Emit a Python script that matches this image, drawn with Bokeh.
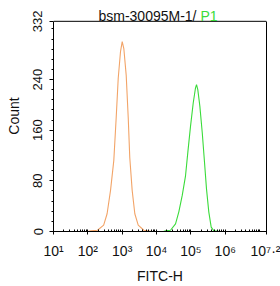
from bokeh.plotting import figure
from bokeh.models import Range1d, FixedTicker, Label, Span, LinearAxis
from bokeh.embed import file_html
from bokeh.resources import INLINE

# ---- data ----
orange_log = [2.0, 2.08, 2.28, 2.46, 2.56, 2.66, 2.755, 2.825, 2.884, 2.95, 3.0,
              3.047, 3.116, 3.175, 3.22, 3.29, 3.367, 3.466, 3.63, 3.87, 4.0]
orange_cnt = [0, 1, 2, 10, 28, 65, 112, 180, 242, 284, 300,
              289, 247, 180, 117, 65, 28, 10, 2, 0, 0]
green_log = [4.2, 4.26, 4.406, 4.552, 4.648, 4.747, 4.843, 4.91, 4.988, 5.067, 5.134,
             5.163, 5.2, 5.26, 5.33, 5.396, 5.454, 5.52, 5.59, 5.667, 5.86]
green_cnt = [0, 1, 2, 12, 31, 57, 88, 125, 166, 203, 227,
             232, 224, 198, 156, 109, 67, 31, 7, 1, 0]

x_tick_exps = ["1", "2", "3", "4", "5", "6", "7.2"]
y_ticks = [0, 80, 160, 240, 332]
y_tick_labels = ["0", "80", "160", "240", "332"]
title_main = "bsm-30095M-1/"
title_gate = "P1"
x_label = "FITC-H"
y_label = "Count"

FONT = "Liberation Sans"
ORANGE = "#F2A468"
GREEN = "#3ADB3A"
TXT = "#111111"

SUP = {"0": "\u2070", "1": "\u00b9", "2": "\u00b2", "3": "\u00b3", "4": "\u2074",
       "5": "\u2075", "6": "\u2076", "7": "\u2077", "8": "\u2078", "9": "\u2079",
       ".": "\u00b7"}

# layout: plot box is 212 px tall, 21 px of title room above it inside the frame
BOX_H, TOP_ROOM, BOTTOM = 212, 21, 53
y_max = y_ticks[-1]
y_top = y_max * (BOX_H + TOP_ROOM) / BOX_H
px = y_max / BOX_H            # counts per pixel
title_y = y_max + 5.5 * px    # title baseline 5.5 px above the box

x_lo, x_hi = 10 ** float(x_tick_exps[0]), 10 ** float(x_tick_exps[-1])

p = figure(width=280, height=BOX_H + TOP_ROOM + BOTTOM, x_axis_type="log",
           x_range=Range1d(x_lo, x_hi), y_range=Range1d(0, y_top),
           output_backend="svg", toolbar_location=None,
           min_border_left=53, min_border_right=14,
           min_border_top=0, min_border_bottom=BOTTOM)
p.title.visible = False
p.xgrid.visible = False
p.ygrid.visible = False
p.outline_line_color = None
p.background_fill_color = "white"
p.border_fill_color = "white"

p.line([10 ** v for v in orange_log], orange_cnt, line_color=ORANGE, line_width=1.1)
p.line([10 ** v for v in green_log], green_cnt, line_color=GREEN, line_width=1.1)

# ---- box: top edge and right edge ----
p.add_layout(Span(location=y_max, dimension="width", line_color="black", line_width=1))
right_axis = LinearAxis(bounds=(0, y_max), ticker=FixedTicker(ticks=[]),
                        axis_line_color="black", major_tick_line_color=None,
                        minor_tick_line_color=None)
p.add_layout(right_axis, "right")

# ---- x axis ----
xt = [10 ** float(e) for e in x_tick_exps]
minor_x = []
for d in range(1, 7):
    for k in range(2, 10):
        minor_x.append(k * 10 ** d)
minor_x.append(10 ** 7)
xa = p.xaxis[0]
xa.ticker = FixedTicker(ticks=xt, minor_ticks=minor_x)
xa.major_label_overrides = {v: "10" + "".join(SUP[c] for c in e)
                            for v, e in zip(xt, x_tick_exps)}
xa.major_label_text_font = FONT
xa.major_label_text_font_size = "14px"
xa.major_label_text_color = TXT
xa.major_label_standoff = 8
xa.axis_line_color = "black"
xa.major_tick_line_color = "black"
xa.minor_tick_line_color = "black"
xa.major_tick_in = 2
xa.major_tick_out = 3
xa.minor_tick_in = 2
xa.minor_tick_out = 0
xa.axis_label = x_label
xa.axis_label_text_font = FONT
xa.axis_label_text_font_size = "14px"
xa.axis_label_text_font_style = "normal"
xa.axis_label_text_color = TXT
xa.axis_label_standoff = 6

# ---- y axis ----
ya = p.yaxis[0]
ya.bounds = (0, y_max)
ya.ticker = FixedTicker(ticks=y_ticks, minor_ticks=list(range(0, y_max, 16)))
ya.major_label_overrides = {t: s for t, s in zip(y_ticks, y_tick_labels)}
ya.major_label_orientation = "vertical"
ya.major_label_text_font = FONT
ya.major_label_text_font_size = "13px"
ya.major_label_text_color = TXT
ya.major_label_standoff = 7
ya.axis_line_color = "black"
ya.major_tick_line_color = "black"
ya.minor_tick_line_color = "black"
ya.major_tick_in = 0
ya.major_tick_out = 4
ya.minor_tick_in = 0
ya.minor_tick_out = 2
ya.axis_label = y_label
ya.axis_label_text_font = FONT
ya.axis_label_text_font_size = "14px"
ya.axis_label_text_font_style = "normal"
ya.axis_label_text_color = TXT
ya.axis_label_standoff = 9

# ---- two-colour title (inside the frame's top room) ----
p.add_layout(Label(x=143, y=title_y, x_units="screen", y_units="data",
                   text=title_main, text_align="right", text_baseline="alphabetic",
                   text_font=FONT, text_font_size="14px", text_color=TXT))
p.add_layout(Label(x=147, y=title_y, x_units="screen", y_units="data",
                   text=title_gate, text_align="left", text_baseline="alphabetic",
                   text_font=FONT, text_font_size="14px", text_color=GREEN))

open("out.html", "w").write(file_html(p, INLINE))
